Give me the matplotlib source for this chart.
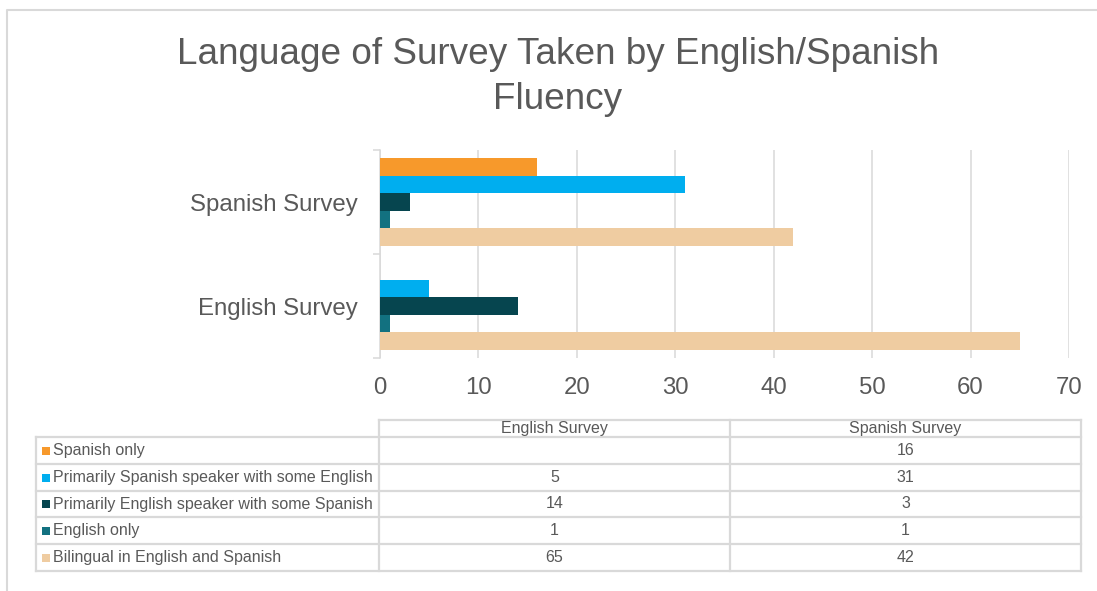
import matplotlib.pyplot as plt
from matplotlib.patches import Rectangle
import numpy as np

plt.rcParams['font.family'] = ['Liberation Sans', 'DejaVu Sans']

# survey counts per fluency group
surveys = ['English Survey', 'Spanish Survey']
fluency = ['Spanish only',
           'Primarily Spanish speaker with some English',
           'Primarily English speaker with some Spanish',
           'English only',
           'Bilingual in English and Spanish']
english_survey = [np.nan, 5, 14, 1, 65]
spanish_survey = [16, 31, 3, 1, 42]
colors = ['#F7992B', '#00AEEF', '#06454F', '#127180', '#EFCCA1']

text_color = '#595959'
line_color = '#d9d9d9'

W, H = 1097, 591
fig = plt.figure(figsize=(W / 100, H / 100), dpi=100)


def px_box(x0, y0, x1, y1):
    return [x0 / W, 1 - y1 / H, (x1 - x0) / W, (y1 - y0) / H]


# background layer in pixel coordinates: frame, title and data table
bg = fig.add_axes([0, 0, 1, 1])
bg.set_xlim(0, W)
bg.set_ylim(H, 0)
bg.axis('off')
bg.plot([7, 7, W], [H, 10, 10], color=line_color, lw=1.5)

bg.text(558, 64, 'Language of Survey Taken by English/Spanish', ha='center', va='baseline',
        fontsize=26.6, color=text_color)
bg.text(558, 109, 'Fluency', ha='center', va='baseline', fontsize=26.6, color=text_color)

# bar chart
ax = fig.add_axes(px_box(380, 150, 1069, 358))
h = 0.1675
for i, name in enumerate(fluency):
    vals = np.array([english_survey[i], spanish_survey[i]], dtype=float)
    ypos = np.arange(len(surveys)) + (2 - i) * h
    ok = ~np.isnan(vals)
    ax.barh(ypos[ok], vals[ok], height=h, color=colors[i], zorder=3)

ax.set_xlim(0, 70)
ax.set_ylim(-0.5, 1.5)
ax.set_xticks(range(0, 71, 10))
ax.grid(axis='x', color=line_color, lw=1.1)
ax.set_axisbelow(True)
ax.tick_params(axis='x', length=0, pad=14, labelsize=17.3, labelcolor=text_color)
ax.set_yticks([0, 1], surveys)
ax.tick_params(axis='y', which='major', length=0, pad=16, labelsize=17.3, labelcolor=text_color)
ax.set_yticks([-0.5, 0.5, 1.5], minor=True)
ax.tick_params(axis='y', which='minor', length=5, width=1.1, color=line_color)
for side in ['top', 'right', 'bottom']:
    ax.spines[side].set_visible(False)
ax.spines['left'].set_color(line_color)
ax.spines['left'].set_linewidth(1.1)

# data table under the chart
cols = [36, 379, 730, 1081]
rows = [437, 464, 491, 517, 544, 571]
head_top = 420
tl = dict(color=line_color, lw=1.6)
bg.plot([cols[1], cols[3]], [head_top, head_top], **tl)
for y in rows:
    bg.plot([cols[0], cols[3]], [y, y], **tl)
bg.plot([cols[0], cols[0]], [rows[0], rows[-1]], **tl)
for x in cols[1:]:
    bg.plot([x, x], [head_top, rows[-1]], **tl)

fs = 11.5
col_mid = [(cols[1] + cols[2]) / 2, (cols[2] + cols[3]) / 2]
for j, s in enumerate(surveys):
    bg.text(col_mid[j], (head_top + rows[0]) / 2, s, ha='center', va='center',
            fontsize=fs, color=text_color)

for i, name in enumerate(fluency):
    yc = (rows[i] + rows[i + 1]) / 2
    bg.add_patch(Rectangle((42, yc - 4), 8, 8, color=colors[i], lw=0))
    bg.text(53, yc, name, ha='left', va='center', fontsize=fs, color=text_color)
    for j, v in enumerate([english_survey[i], spanish_survey[i]]):
        label = '' if np.isnan(v) else str(int(v))
        bg.text(col_mid[j], yc, label, ha='center', va='center', fontsize=fs, color=text_color)

fig.savefig('out.png', dpi=100, facecolor='white')
